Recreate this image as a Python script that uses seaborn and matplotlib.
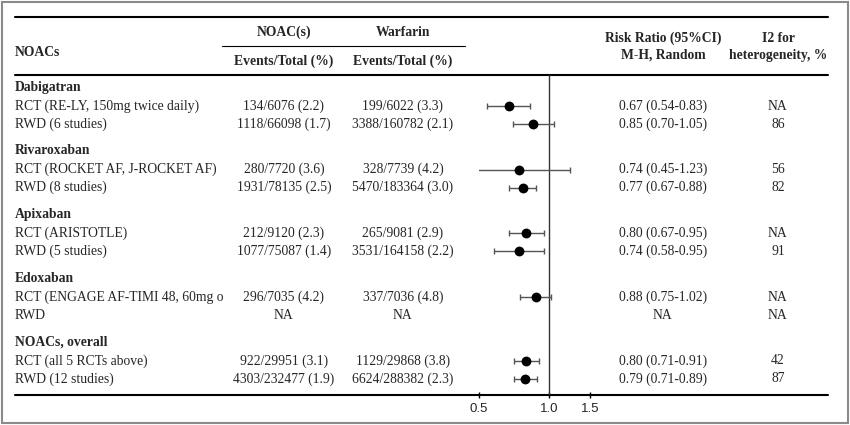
import numpy as np
import pandas as pd
import seaborn as sns
import matplotlib.pyplot as plt

groups = ['Dabigatran', 'Rivaroxaban', 'Apixaban', 'Edoxaban', 'NOACs, overall']
row_labels = ['RCT (RE-LY, 150mg twice daily)', 'RWD (6 studies)',
              'RCT (ROCKET AF, J-ROCKET AF)', 'RWD (8 studies)',
              'RCT (ARISTOTLE)', 'RWD (5 studies)',
              'RCT (ENGAGE AF-TIMI 48, 60mg o', 'RWD',
              'RCT (all 5 RCTs above)', 'RWD (12 studies)']
noac_events = [134, 1118, 280, 1931, 212, 1077, 296, None, 922, 4303]
noac_total = [6076, 66098, 7720, 78135, 9120, 75087, 7035, None, 29951, 232477]
noac_pct = [2.2, 1.7, 3.6, 2.5, 2.3, 1.4, 4.2, None, 3.1, 1.9]
warf_events = [199, 3388, 328, 5470, 265, 3531, 337, None, 1129, 6624]
warf_total = [6022, 160782, 7739, 183364, 9081, 164158, 7036, None, 29868, 288382]
warf_pct = [3.3, 2.1, 4.2, 3.0, 2.9, 2.2, 4.8, None, 3.8, 2.3]
rr = [0.67, 0.85, 0.74, 0.77, 0.80, 0.74, 0.88, np.nan, 0.80, 0.79]
rr_lo = [0.54, 0.70, 0.45, 0.67, 0.67, 0.58, 0.75, np.nan, 0.71, 0.71]
rr_hi = [0.83, 1.05, 1.23, 0.88, 0.95, 0.95, 1.02, np.nan, 0.91, 0.89]
i2 = ['NA', '86', '56', '82', 'NA', '91', 'NA', 'NA', '42', '87']
x_ticks = [0.5, 1.0, 1.5]

sns.set_theme(style='white')
plt.rcParams['font.family'] = ['Liberation Serif', 'DejaVu Serif']

W, H = 850, 425
fig = plt.figure(figsize=(8.5, 4.25), dpi=100)

# overlay axes in pixel coords for the table
tab = fig.add_axes([0, 0, 1, 1], zorder=0)
tab.set_xlim(0, W)
tab.set_ylim(H, 0)
tab.axis('off')

# outer frame
tab.add_patch(plt.Rectangle((2, 2), W - 4, H - 4, fill=False, ec='#8a8a8a', lw=1.5))

# rules
tab.plot([15, 828], [17, 17], color='black', lw=1.5)
tab.plot([222, 465], [46, 46], color='black', lw=0.8)
tab.plot([15, 828], [75, 75], color='black', lw=1.5)
tab.plot([15, 828], [395, 395], color='black', lw=1.5)

fs = 9.8
x_lab, x_noac, x_warf, x_rr, x_i2 = 15, 284, 403, 663, 778

# header
tab.text(x_lab, 52, 'NOACs', fontsize=fs, fontweight='bold', va='center')
tab.text(x_noac, 32, 'NOAC(s)', fontsize=fs, fontweight='bold', ha='center', va='center')
tab.text(x_warf, 32, 'Warfarin', fontsize=fs, fontweight='bold', ha='center', va='center')
tab.text(x_noac, 61, 'Events/Total (%)', fontsize=fs, fontweight='bold', ha='center', va='center')
tab.text(x_warf, 61, 'Events/Total (%)', fontsize=fs, fontweight='bold', ha='center', va='center')
tab.text(x_rr, 47, 'Risk Ratio (95%CI)\nM-H, Random', fontsize=fs, fontweight='bold',
         ha='center', va='center', linespacing=1.35)
tab.text(x_i2, 47, 'I2 for\nheterogeneity, %', fontsize=fs, fontweight='bold',
         ha='center', va='center', linespacing=1.35)


def fmt_events(e, t, p):
    if e is None:
        return 'NA'
    return f'{e}/{t} ({p:.1f})'


# rows
row_y = []
for g, name in enumerate(groups):
    gy = 87 + 63.7 * g
    tab.text(x_lab, gy, name, fontsize=fs, fontweight='bold', va='center')
    row_y += [gy + 19, gy + 37]

for i, y in enumerate(row_y):
    tab.text(x_lab, y, row_labels[i], fontsize=fs, va='center')
    tab.text(x_noac, y, fmt_events(noac_events[i], noac_total[i], noac_pct[i]),
             fontsize=fs, ha='center', va='center')
    tab.text(x_warf, y, fmt_events(warf_events[i], warf_total[i], warf_pct[i]),
             fontsize=fs, ha='center', va='center')
    if np.isnan(rr[i]):
        rr_txt = 'NA'
    else:
        rr_txt = f'{rr[i]:.2f} ({rr_lo[i]:.2f}-{rr_hi[i]:.2f})'
    tab.text(x_rr, y, rr_txt, fontsize=fs, ha='center', va='center')
    tab.text(x_i2, y, i2[i], fontsize=fs, ha='center', va='center')

# forest plot axes, log scale, 1.0 at x=549px
left_px, right_px = 479, 827
ax = fig.add_axes([left_px / W, 1 - 395 / H, (right_px - left_px) / W, (395 - 75) / H], zorder=1)
ax.patch.set_alpha(0)
ax.set_xscale('log')
ax.set_xlim(0.5, np.exp((right_px - 549) / 101.0))
ax.set_ylim(395, 75)

df = pd.DataFrame({'rr': rr, 'lo': rr_lo, 'hi': rr_hi, 'y': row_y}).dropna()
ax.errorbar(df['rr'], df['y'], xerr=[df['rr'] - df['lo'], df['hi'] - df['rr']],
            fmt='none', ecolor='#555555', elinewidth=1, capsize=2.5, capthick=1, zorder=2)
sns.scatterplot(data=df, x='rr', y='y', ax=ax, color='black', s=50, edgecolor='black',
                linewidth=0, zorder=3, legend=False)
ax.axvline(1.0, color='#333333', lw=1, zorder=1)

for s in ax.spines.values():
    s.set_visible(False)
ax.set_xticks(x_ticks)
ax.set_xticklabels([f'{t:.1f}' for t in x_ticks], fontfamily='Liberation Sans', fontsize=9.5)
ax.minorticks_off()
ax.tick_params(axis='x', which='major', direction='inout', length=5, width=1, color='black',
               bottom=True, pad=3)
ax.set_yticks([])
ax.set_xlabel('')
ax.set_ylabel('')

fig.savefig('out.png', dpi=100)
